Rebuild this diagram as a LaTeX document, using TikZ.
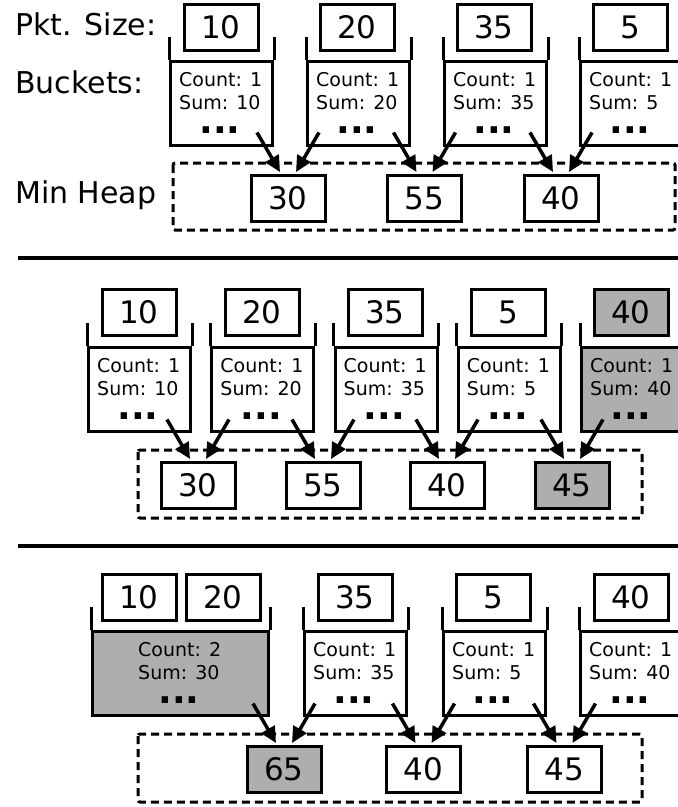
\documentclass[tikz,border=0pt]{standalone}
\usepackage{fontspec}
\setmainfont{DejaVu Sans}
\usetikzlibrary{arrows.meta,calc}
\definecolor{hl}{RGB}{174,174,174}
\tikzset{
 box/.style={draw, line width=3pt, minimum width=74pt, minimum height=46pt, inner sep=0pt, fill=white, font=\fontsize{31}{31}\selectfont},
 body/.style={draw, line width=3pt, minimum height=84pt, inner sep=0pt, anchor=north west},
 wall/.style={line width=3pt},
 cnt/.style={anchor=base west, inner sep=0pt, font=\fontsize{19}{19}\selectfont},
 dotsty/.style={anchor=base, inner sep=0pt, text height=6pt, text depth=0pt, font=\fontsize{36}{36}\selectfont\bfseries},
 heapbox/.style={draw, line width=3pt, dash pattern=on 8pt off 5pt, rounded corners=2pt},
 arr/.style={line width=3.5pt, -{Triangle[length=16pt,width=15pt]}},
 lab/.style={anchor=base west, inner sep=0pt, font=\fontsize{30}{30}\selectfont},
 sep/.style={line width=4pt},
}
% name, left x, panel offset, width, count, sum, fill
\newcommand\mybucket[7]{%
  \node[body, minimum width=#4pt, fill=#7] (#1) at (#2,#3+60) {};
  \draw[wall] (#1.north west) -- ++(0,-23);
  \draw[wall] (#1.north east) -- ++(0,-23);
  \node[cnt] (#1c) at (#2+#4/2-41,#3+86) {Count: #5};
  \node[cnt] (#1s) at (#2+#4/2-41,#3+109) {Sum: #6};
  \node[dotsty] (#1d) at (#2+#4/2,#3+133) {...};
}
\newcommand\harrows[1]{%
  \draw[arr] ($(#1.north)+(-31,-41)$) -- ($(#1.north)+(-8,-1.5)$);
  \draw[arr] ($(#1.north)+(31,-41)$) -- ($(#1.north)+(8,-1.5)$);
}
\begin{document}
\begin{tikzpicture}[x=1pt,y=-1pt]
\useasboundingbox (0,0) rectangle (678,807);
\fill[white] (0,0) rectangle (678,807);
\clip (0,0) rectangle (678,807);

% ---------- top panel ----------
\node[lab] (lpkt) at (15,35) {Pkt. Size:};
\node[lab] (lbkt) at (15,93) {Buckets:};
\node[lab] (lheap) at (15,203) {Min Heap};

\mybucket{tb1}{169}{0}{102}{1}{10}{white}
\mybucket{tb2}{306}{0}{102}{1}{20}{white}
\mybucket{tb3}{443}{0}{102}{1}{35}{white}
\mybucket{tb4}{579}{0}{102}{1}{5}{white}
\node[box] (tp1) at (221,27) {10};
\node[box] (tp2) at (357,27) {20};
\node[box] (tp3) at (494,27) {35};
\node[box] (tp4) at (630.5,27) {5};

\draw[heapbox] (173,163) rectangle (675,230);
\node[box] (th1) at (288,198) {30};
\node[box] (th2) at (424.5,198) {55};
\node[box] (th3) at (561,198) {40};
\harrows{th1}
\harrows{th2}
\harrows{th3}

\draw[sep] (18,257.5) -- (678,257.5);

% ---------- middle panel ----------
\mybucket{mb1}{87}{286}{102}{1}{10}{white}
\mybucket{mb2}{210.25}{286}{102}{1}{20}{white}
\mybucket{mb3}{333.5}{286}{102}{1}{35}{white}
\mybucket{mb4}{456.75}{286}{102}{1}{5}{white}
\mybucket{mb5}{580}{286}{102}{1}{40}{hl}
\node[box] (mp1) at (139,312) {10};
\node[box] (mp2) at (262,312) {20};
\node[box] (mp3) at (385,312) {35};
\node[box] (mp4) at (508,312) {5};
\node[box, fill=hl] (mp5) at (631,312) {40};

\draw[heapbox] (138,450) rectangle (642,518);
\node[box] (mh1) at (198,485) {30};
\node[box] (mh2) at (323,485) {55};
\node[box] (mh3) at (447,485) {40};
\node[box, fill=hl] (mh4) at (572,485) {45};
\harrows{mh1}
\harrows{mh2}
\harrows{mh3}
\harrows{mh4}

\draw[sep] (18,545.5) -- (678,545.5);

% ---------- bottom panel ----------
\mybucket{bb1}{91}{570}{176}{2}{30}{hl}
\mybucket{bb2}{303}{570}{102}{1}{35}{white}
\mybucket{bb3}{442}{570}{102}{1}{5}{white}
\mybucket{bb4}{579}{570}{102}{1}{40}{white}
\node[box] (bp1) at (139,597) {10};
\node[box] (bp2) at (223,597) {20};
\node[box] (bp3) at (355,597) {35};
\node[box] (bp4) at (493,597) {5};
\node[box] (bp5) at (631,597) {40};

\draw[heapbox] (138,734) rectangle (642,802);
\node[box, fill=hl] (bh1) at (284,769) {65};
\node[box] (bh2) at (423.5,769) {40};
\node[box] (bh3) at (564.5,769) {45};
\harrows{bh1}
\harrows{bh2}
\harrows{bh3}
\end{tikzpicture}
\end{document}
